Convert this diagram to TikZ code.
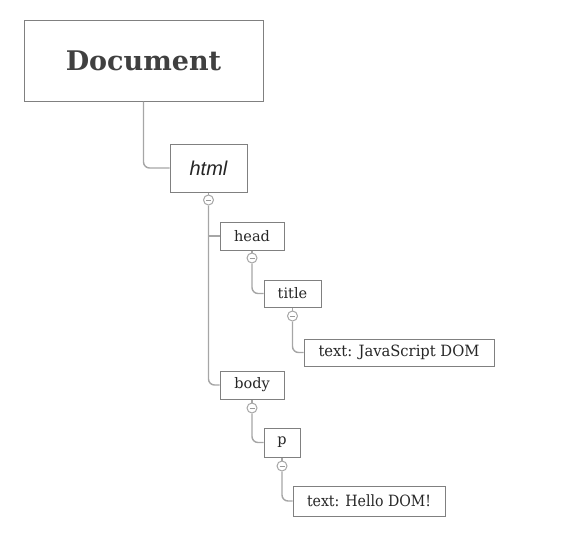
\documentclass[tikz,border=0pt]{standalone}
\usepackage{fontspec}
\setmainfont{DejaVu Serif}
\newfontfamily\itsans{Liberation Sans}
\begin{document}
\begin{tikzpicture}[x=1pt,y=-1pt,
  box/.style={draw=black!50,line width=1pt,fill=white,inner sep=0pt,text=black!85},
  link/.style={draw=black!35,line width=1.4pt,rounded corners=6pt},
  knob/.style={circle,draw=black!35,fill=white,line width=1pt,minimum size=10pt,inner sep=0pt,
    path picture={\draw[black!40,line width=0.8pt] ([xshift=-2.5pt]path picture bounding box.center) -- ([xshift=2.5pt]path picture bounding box.center);}},
  tag/.style={font=\fontsize{14.5}{16}\selectfont},
  leaf/.style={font=\fontsize{15.5}{17}\selectfont}]
\useasboundingbox (0,0) rectangle (575,551);

% tree nodes
\node[box,minimum width=239pt,minimum height=80pt,text=black!75,
  font=\bfseries\fontsize{27}{30}\selectfont] (doc) at (143.5,61) {Document};
\node[box,minimum width=77pt,minimum height=48pt,font=\itsans\itshape\fontsize{20}{22}\selectfont] (html) at (208.5,168) {html};
\node[box,tag,minimum width=64pt,minimum height=28pt] (head) at (252,236) {head};
\node[box,tag,minimum width=57pt,minimum height=27pt] (title) at (292.5,293.5) {title};
\node[box,leaf,minimum width=190pt,minimum height=27pt] (t1) at (399,352.5) {\scalebox{0.95}[1]{text: JavaScript DOM}};
\node[box,tag,minimum width=64pt,minimum height=28pt] (body) at (252,385) {body};
\node[box,tag,minimum width=36pt,minimum height=29pt] (p) at (282,442.5) {p};
\node[box,leaf,minimum width=152pt,minimum height=30pt] (t2) at (369,501) {\scalebox{0.91}[1]{text: Hello DOM!}};

% collapse knobs
\node[knob] (kh) at (208.5,200) {};
\node[knob] (khd) at (252,258) {};
\node[knob] (kt) at (292.5,316) {};
\node[knob] (kb) at (252,408) {};
\node[knob] (kp) at (282,466) {};

% connectors
\draw[link] (doc.south) |- (html.west);
\draw[link] (html.south) -- (kh.north);
\draw[link] (kh.south) |- (body.west);
\draw[link,rounded corners=0pt] (kh.south |- head.west) -- (head.west);
\draw[link] (head.south) -- (khd.north);
\draw[link] (khd.south) |- (title.west);
\draw[link] (title.south) -- (kt.north);
\draw[link] (kt.south) |- (t1.west);
\draw[link] (body.south) -- (kb.north);
\draw[link] (kb.south) |- (p.west);
\draw[link] (p.south) -- (kp.north);
\draw[link] (kp.south) |- (t2.west);
\end{tikzpicture}
\end{document}
